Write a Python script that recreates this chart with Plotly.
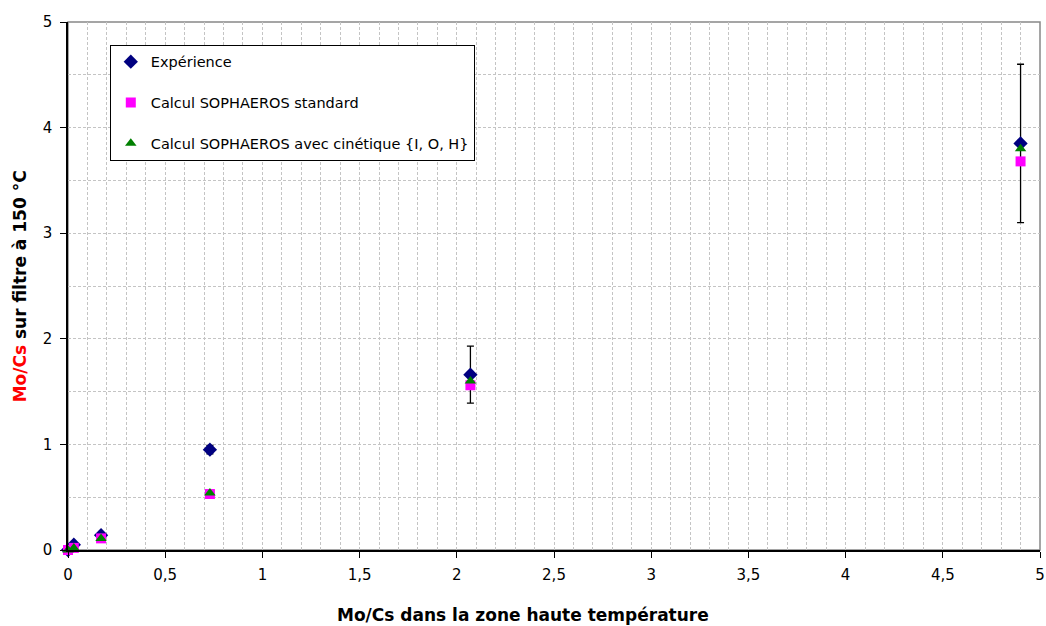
import plotly.graph_objects as go

# Mo/Cs ratios
x_points = [0.0, 0.03, 0.17, 0.73, 2.07, 4.90]
y_experience = [0.0, 0.05, 0.14, 0.95, 1.66, 3.85]
err_experience = [0.0, 0.0, 0.0, 0.04, 0.27, 0.75]
y_standard = [0.0, 0.02, 0.11, 0.53, 1.56, 3.68]
y_cinetique = [0.0, 0.02, 0.11, 0.54, 1.60, 3.80]

x_ticks = [0, 0.5, 1, 1.5, 2, 2.5, 3, 3.5, 4, 4.5, 5]
y_ticks = [0, 1, 2, 3, 4, 5]

FONT = "DejaVu Sans"
GRID = dict(gridcolor="#c4c4c4", griddash="3px,2px")

fig = go.Figure()

fig.add_trace(
    go.Scatter(
        x=x_points,
        y=y_experience,
        mode="markers",
        name="Expérience",
        legendgroup="a",
        marker=dict(color="#000080", size=11, symbol="diamond"),
        error_y=dict(type="data", array=err_experience, color="black", thickness=1.3, width=3.5),
        cliponaxis=False,
    )
)
fig.add_trace(
    go.Scatter(
        x=x_points,
        y=y_standard,
        mode="markers",
        name="Calcul SOPHAEROS standard",
        legendgroup="b",
        marker=dict(color="#ff00ff", size=10, symbol="square"),
        cliponaxis=False,
    )
)
fig.add_trace(
    go.Scatter(
        x=x_points,
        y=y_cinetique,
        mode="markers",
        name="Calcul SOPHAEROS avec cinétique {I, O, H}",
        legendgroup="c",
        marker=dict(color="#008000", size=10, symbol="triangle-up"),
        cliponaxis=False,
    )
)

# grey frame top/right
fig.add_shape(
    type="rect", xref="paper", yref="paper", x0=0, x1=1, y0=0, y1=1,
    line=dict(color="#888888", width=1.5), layer="below",
)

# axis titles (x title is centred on the page, not on the plot)
fig.add_annotation(
    text="<b>Mo/Cs dans la zone haute température</b>",
    xref="paper", yref="paper", x=0.468, y=-0.123,
    xanchor="center", yanchor="middle", showarrow=False,
    font=dict(family=FONT, size=17, color="black"),
)
fig.add_annotation(
    text="<b><span style='color:red'>Mo/Cs</span> sur filtre à 150 °C</b>",
    xref="paper", yref="paper", x=-0.049, y=0.5, textangle=-90,
    xanchor="center", yanchor="middle", showarrow=False,
    font=dict(family=FONT, size=17, color="black"),
)

fig.update_layout(
    width=1046,
    height=626,
    margin=dict(l=68, r=6, t=22, b=76),
    paper_bgcolor="white",
    plot_bgcolor="white",
    separators=", ",
    font=dict(family=FONT, size=15, color="black"),
    showlegend=True,
    legend=dict(
        x=0.043,
        y=0.957,
        xanchor="left",
        yanchor="top",
        bgcolor="white",
        bordercolor="black",
        borderwidth=1,
        font=dict(family=FONT, size=14.5),
        tracegroupgap=19,
        itemwidth=30,
    ),
)

fig.update_xaxes(
    range=[0, 5],
    tickvals=x_ticks,
    ticks="outside",
    ticklen=6,
    tickcolor="black",
    showline=True,
    linecolor="black",
    linewidth=1.5,
    showgrid=True,
    zeroline=False,
    minor=dict(dtick=0.1, showgrid=True, ticks="", **GRID),
    tickfont=dict(size=15),
    ticklabeloverflow="allow",
    ticklabelstandoff=4,
    automargin=False,
    **GRID,
)
fig.update_yaxes(
    range=[0, 5],
    tickvals=y_ticks,
    ticks="outside",
    ticklen=6,
    tickcolor="black",
    showline=True,
    linecolor="black",
    linewidth=1.5,
    showgrid=True,
    zeroline=False,
    minor=dict(dtick=0.5, showgrid=True, ticks="", **GRID),
    tickfont=dict(size=15),
    ticklabelstandoff=5,
    automargin=False,
    **GRID,
)

fig.write_html(
    "out.html",
    config={"displayModeBar": False},
    post_script="document.body.style.margin='0';",
)
